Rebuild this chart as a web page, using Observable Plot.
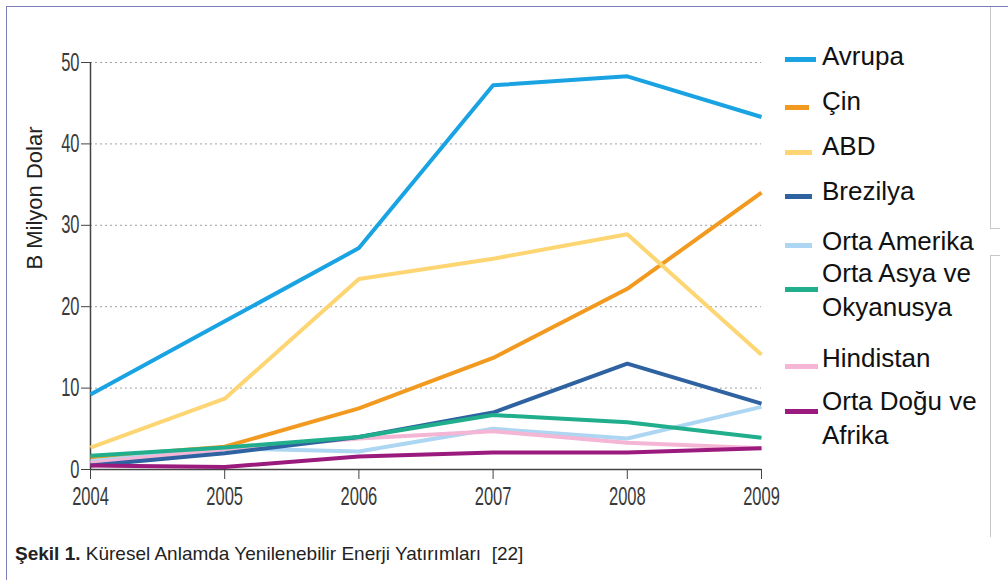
<!DOCTYPE html>
<html>
<head>
<meta charset="utf-8">
<script src="https://cdn.jsdelivr.net/npm/d3@7"></script>
<script src="https://cdn.jsdelivr.net/npm/@observablehq/plot@0.6"></script>
<style>
  html, body { margin: 0; padding: 0; background: #fff; }
  #wrap { position: relative; width: 1008px; height: 580px; overflow: hidden; font-family: Arial, "Liberation Sans", Helvetica, sans-serif; }
  #chart { position: absolute; left: 0; top: 0; }
  .frameTop { position: absolute; left: 6px; top: 6px; width: 1002px; height: 0; border-top: 1.5px solid #7f7db8; }
  .frameLeft { position: absolute; left: 6px; top: 6px; width: 0; height: 574px; border-left: 1.5px solid #7f7db8; }
  .vline { position: absolute; width: 0; border-left: 1px solid #c8c8c8; }
  .hline { position: absolute; height: 0; border-top: 1px solid #c8c8c8; }
  .legend { position: absolute; left: 0; top: 0; }
  .item { position: absolute; font-size: 26px; color: #111; line-height: 34px; white-space: nowrap; }
  .sw { position: absolute; height: 5px; }
  #ylabel { position: absolute; left: 35px; top: 198px; transform: translate(-50%, -50%) rotate(-90deg); font-size: 22px; color: #222; white-space: nowrap; }
  #caption { position: absolute; left: 15px; top: 543px; font-size: 19px; color: #222; white-space: nowrap; }
</style>
</head>
<body>
<div id="wrap">
  <div id="chart"></div>
  <div class="frameTop"></div>
  <div class="frameLeft"></div>
  <div class="vline" style="left:990px; top:7px; height:221px;"></div>
  <div class="hline" style="left:990px; top:228px; width:10px;"></div>
  <div class="vline" style="left:990px; top:255px; height:282px;"></div>
  <div class="hline" style="left:990px; top:255px; width:10px;"></div>
  <div id="ylabel">B Milyon Dolar</div>
  <div id="legend" class="legend"></div>
  <div id="caption"><b>Şekil 1.</b> Küresel Anlamda Yenilenebilir Enerji Yatırımları&nbsp; [22]</div>
</div>
<script>
// ---- data ----
const years = [2004, 2005, 2006, 2007, 2008, 2009];
const avrupa      = [9.2, 18.2, 27.2, 47.2, 48.3, 43.3];
const cin         = [1.5, 2.8, 7.5, 13.7, 22.2, 34.0];
const abd         = [2.7, 8.7, 23.4, 25.9, 28.9, 14.1];
const brezilya    = [0.5, 2.0, 4.0, 7.0, 13.0, 8.1];
const ortaAmerika = [1.0, 2.6, 2.2, 5.0, 3.8, 7.7];
const ortaAsya    = [1.7, 2.7, 4.0, 6.7, 5.8, 3.9];
const hindistan   = [0.8, 2.5, 3.8, 4.7, 3.3, 2.6];
const ortaDogu    = [0.5, 0.3, 1.6, 2.1, 2.1, 2.6];
const seriesNames = ["Avrupa", "Çin", "ABD", "Brezilya", "Orta Amerika", "Orta Asya ve Okyanusya", "Hindistan", "Orta Doğu ve Afrika"];
const seriesValues = [avrupa, cin, abd, brezilya, ortaAmerika, ortaAsya, hindistan, ortaDogu];
const seriesColors = ["#1aa3e2", "#f29a1f", "#fdd673", "#2f62a0", "#acd6f2", "#20ae8c", "#f4b6d4", "#9a1a7e"];
const yTicks = [0, 10, 20, 30, 40, 50];
const legendText = ["Avrupa", "Çin", "ABD", "Brezilya", "Orta Amerika", "Orta Asya ve<br>Okyanusya", "Hindistan", "Orta Doğu ve<br>Afrika"];

const rows = [];
seriesNames.forEach((name, i) => {
  years.forEach((yr, j) => rows.push({ series: name, year: yr, value: seriesValues[i][j] }));
});

const drawOrder = ["Çin", "ABD", "Avrupa", "Orta Amerika", "Hindistan", "Brezilya", "Orta Asya ve Okyanusya", "Orta Doğu ve Afrika"];

const plot = Plot.plot({
  width: 1008,
  height: 500,
  marginLeft: 90,
  marginRight: 247,
  marginTop: 62,
  marginBottom: 31,
  style: { background: "transparent", fontFamily: "Arial, 'Liberation Sans', sans-serif", fontSize: "25px", color: "#3a3a3a", overflow: "visible" },
  x: { domain: [2004, 2009], ticks: years, tickFormat: d3.format("d"), label: null },
  y: { domain: [0, 50], ticks: yTicks, label: null },
  color: { domain: seriesNames, range: seriesColors },
  marks: [
    Plot.gridY(yTicks.filter(d => d > 0), { stroke: "#888", strokeOpacity: 0.8, strokeDasharray: "2,3" }),
    Plot.axisY({ ticks: yTicks, tickSize: 9, tickPadding: 2, stroke: "#444", fill: "#3a3a3a", fontSize: 25 }),
    Plot.axisX({ ticks: years, tickSize: 10, tickPadding: 8, tickFormat: d3.format("d"), stroke: "#444", fill: "#3a3a3a", fontSize: 25 }),
    Plot.ruleX([2004], { stroke: "#444", strokeWidth: 1.5 }),
    Plot.ruleY([0], { stroke: "#444", strokeWidth: 1.5 }),
    ...drawOrder.map(name => Plot.line(rows.filter(r => r.series === name), {
      x: "year", y: "value", stroke: "series", strokeWidth: 4, strokeLinejoin: "round", strokeLinecap: "butt"
    }))
  ]
});
document.getElementById("chart").appendChild(plot);

// condense the tick labels horizontally (narrow, tall digits as in the reference)
d3.select(plot).selectAll("g[aria-label='x-axis tick label'] text, g[aria-label='y-axis tick label'] text").each(function () {
  const el = d3.select(this);
  let tr = el.attr("transform");
  if (!tr) {
    const x = +el.attr("x") || 0, y = +el.attr("y") || 0;
    el.attr("x", null).attr("y", null);
    tr = `translate(${x},${y})`;
  }
  el.attr("transform", tr + " scale(0.66,1)");
});

// legend (HTML)
const swY = [59, 107, 152, 196, 245, 289, 366, 411];
const baseY = [65, 110, 155, 200, 250, 282, 367, 410];
const swW = [31, 24, 27, 27, 27, 33, 33, 33];
const lg = document.getElementById("legend");
seriesNames.forEach((name, i) => {
  const s = document.createElement("div");
  s.className = "sw";
  s.style.left = "785px";
  s.style.top = (swY[i] - 2) + "px";
  s.style.width = swW[i] + "px";
  s.style.background = seriesColors[i];
  lg.appendChild(s);
  const t = document.createElement("div");
  t.className = "item";
  t.style.left = "822px";
  t.style.top = (baseY[i] - 26) + "px";
  t.innerHTML = legendText[i];
  lg.appendChild(t);
});
</script>
</body>
</html>
